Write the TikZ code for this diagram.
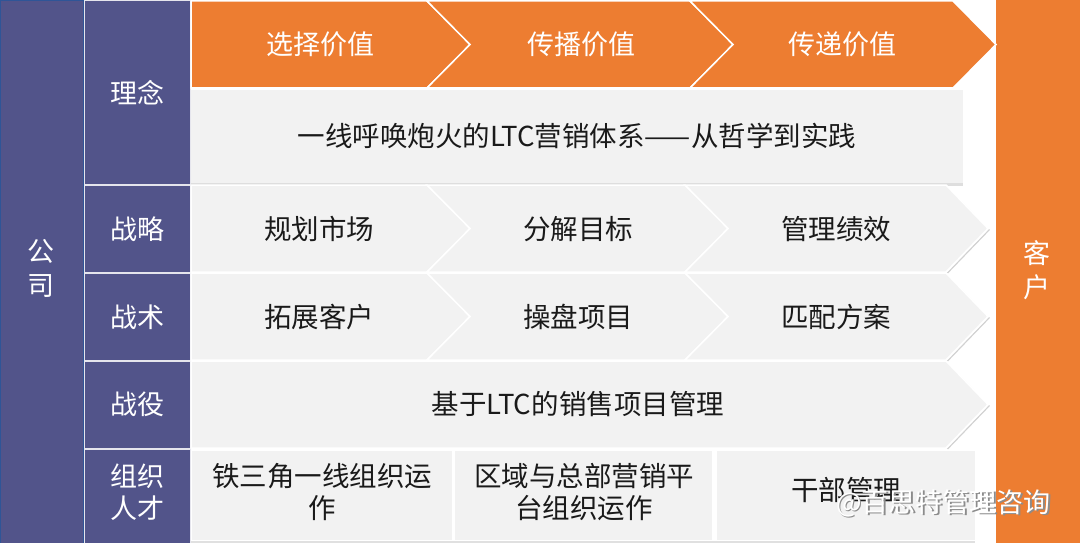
\documentclass[tikz,border=0pt]{standalone}
\usepackage{fontspec}
\setmainfont{Noto Sans CJK SC}
\definecolor{corpblue}{HTML}{52548A}
\definecolor{corpedge}{HTML}{2F5597}
\definecolor{orng}{HTML}{ED7D31}
\definecolor{lgray}{HTML}{F2F2F2}
\definecolor{txt}{HTML}{1A1A1A}
\begin{document}
\begin{tikzpicture}[x=1pt,y=-1pt,
  lbl/.style={font=\fontsize{27.5}{32}\selectfont, text=txt, align=center, inner sep=0pt},
  wlbl/.style={font=\fontsize{27}{34}\selectfont, text=white, align=center, inner sep=0pt},
  purplecell/.style={fill=corpblue, draw=white!85!corpblue, line width=1pt},
  orangeshape/.style={fill=orng, draw=white, line width=1.5pt, line join=miter},
  grayshape/.style={fill=lgray, draw=white, line width=1.5pt, line join=miter},
  shadowline/.style={draw=black!18, line width=1.2pt},
  wmark/.style={font=\fontsize{27}{32}\selectfont, text=white, inner sep=0pt}]
\useasboundingbox (0,0) rectangle (1080,543);
\fill[white] (0,0) rectangle (1080,543);
% left column
\draw[fill=corpblue, draw=corpedge, line width=1pt] (0.5,0.5) rectangle (83,543);
\node[wlbl] (gongsi) at (41,268) {公\\司};
% right column
\fill[orng] (996,0) rectangle (1080,543);
\node[wlbl] (kehu) at (1037,270) {客\\户};
% second column cells
\draw[purplecell] (84,1) rectangle (190,184);
\draw[purplecell] (84,185) rectangle (190,272);
\draw[purplecell] (84,273) rectangle (190,360);
\draw[purplecell] (84,361) rectangle (190,448);
\draw[purplecell] (84,449) rectangle (190,545);
\node[wlbl] (linian) at (137,93) {理念};
\node[wlbl] (zhanlue) at (137,229) {战略};
\node[wlbl] (zhanshu) at (137,317) {战术};
\node[wlbl] (zhanyi) at (137,404) {战役};
\node[wlbl, font=\fontsize{27}{32}\selectfont] (zuzhi) at (137,492) {组织\\人才};
% orange chevrons
\draw[orangeshape] (191,1) -- (427,1) -- (470,44.5) -- (427,88) -- (191,88) -- cycle;
\draw[orangeshape] (427,1) -- (690,1) -- (733,44.5) -- (690,88) -- (427,88) -- (470,44.5) -- cycle;
\draw[orangeshape] (690,1) -- (953,1) -- (996,44.5) -- (953,88) -- (690,88) -- (733,44.5) -- cycle;
\node[wlbl] (o1) at (320,44) {选择价值};
\node[wlbl] (o2) at (581,44) {传播价值};
\node[wlbl] (o3) at (842,44) {传递价值};
% title box
\fill[black!13] (191,183) rectangle (963,185.5);
\fill[lgray] (191,90) rectangle (963,183);
\node[lbl] (title) at (577,136) {一线呼唤炮火的LTC营销体系——从哲学到实践};
% strategy / tactic rows
\foreach \yt/\yb in {185/272, 273/360}{
  \pgfmathsetmacro{\ym}{(\yt+\yb)/2}
  \draw[shadowline] (989.5,\ym+1) -- (947.5,\yb+1);
  \draw[grayshape] (191,\yt) -- (427,\yt) -- (470,\ym) -- (427,\yb) -- (191,\yb) -- cycle;
  \draw[grayshape] (427,\yt) -- (685,\yt) -- (728,\ym) -- (685,\yb) -- (427,\yb) -- (470,\ym) -- cycle;
  \draw[grayshape] (685,\yt) -- (946,\yt) -- (988,\ym) -- (946,\yb) -- (685,\yb) -- (728,\ym) -- cycle;
}
\node[lbl] (s1) at (319,229) {规划市场};
\node[lbl] (s2) at (578,229) {分解目标};
\node[lbl] (s3) at (836,229) {管理绩效};
\node[lbl] (t1) at (319,317) {拓展客户};
\node[lbl] (t2) at (578,317) {操盘项目};
\node[lbl] (t3) at (836,317) {匹配方案};
% campaign row
\draw[shadowline] (989.5,405.5) -- (947.5,449);
\draw[grayshape] (191,361) -- (946,361) -- (988,404.5) -- (946,448) -- (191,448) -- cycle;
\node[lbl] (c1) at (578,404) {基于LTC的销售项目管理};
% organisation row
\fill[black!12] (191,541) rectangle (975,543);
\fill[lgray] (192,451) rectangle (452,540);
\fill[lgray] (455,451) rectangle (712,540);
\fill[lgray] (717,451) rectangle (975,540);
\node[lbl] (r1) at (322,492) {铁三角一线组织运\\作};
\node[lbl] (r2) at (584,492) {区域与总部营销平\\台组织运作};
\node[lbl] (r3) at (846,490) {干部管理};
% watermark
\node[wmark, text=black!45, anchor=west] at (837.5,504.5) {@百思特管理咨询};
\node[wmark, anchor=west] (wm) at (836,503) {@百思特管理咨询};
\end{tikzpicture}
\end{document}
